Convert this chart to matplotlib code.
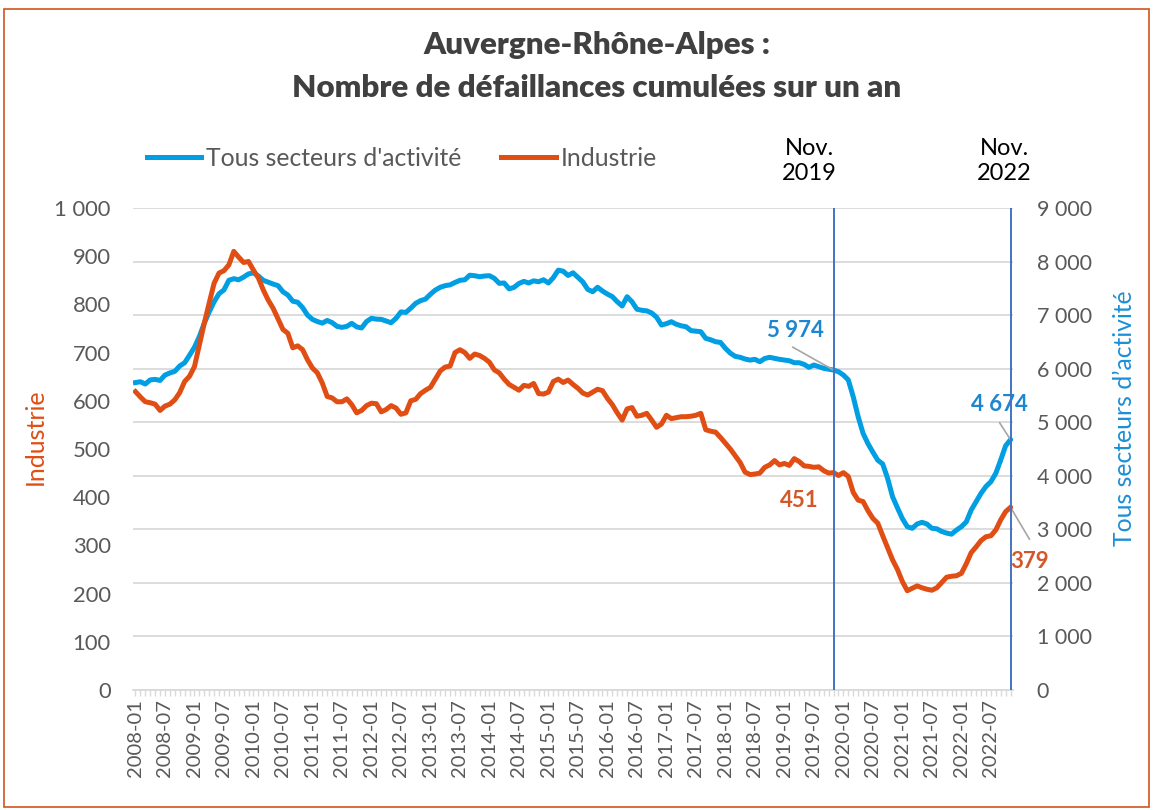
import matplotlib
matplotlib.use("Agg")
import matplotlib.pyplot as plt
from matplotlib.patches import Rectangle
from matplotlib.lines import Line2D
import pandas as pd

plt.rcParams['font.family'] = ['Lato', 'DejaVu Sans']

# Monthly categories, 2008-01 .. 2022-11
months = pd.period_range('2008-01', '2022-11', freq='M').strftime('%Y-%m').tolist()

# Number of business failures over the last 12 months, industry sector (left axis)
industrie = [
    619, 608, 598, 596, 593, 580, 589, 593, 602, 617, 640, 651,
    671, 716, 761, 803, 844, 865, 870, 882, 910, 898, 887, 889,
    871, 855, 830, 809, 792, 770, 748, 740, 710, 714, 706, 685,
    668, 658, 637, 609, 606, 598, 598, 604, 592, 575, 580, 590,
    595, 594, 577, 582, 590, 585, 572, 575, 600, 603, 615, 622,
    628, 645, 662, 670, 672, 700, 706, 700, 688, 697, 694, 688,
    680, 664, 658, 645, 634, 628, 622, 632, 630, 636, 615, 614,
    618, 640, 645, 638, 643, 634, 626, 616, 612, 618, 624, 621,
    605, 592, 575, 560, 583, 586, 568, 570, 574, 560, 545, 552,
    570, 563, 565, 567, 567, 568, 570, 574, 540, 537, 535, 524,
    512, 500, 486, 472, 452, 447, 448, 450, 462, 467, 476, 467,
    470, 466, 480, 474, 465, 464, 462, 463, 455, 450, 451, 445,
    451, 443, 410, 394, 391, 372, 356, 346, 320, 295, 270, 250,
    225, 206, 211, 216, 212, 209, 207, 212, 223, 234, 236, 237,
    242, 262, 285, 297, 310, 318, 320, 332, 353, 370, 379,
]

# Same indicator, all sectors (right axis)
tous_secteurs = [
    5740, 5756, 5713, 5790, 5800, 5780, 5880, 5920, 5950, 6050, 6110, 6250,
    6400, 6600, 6850, 7060, 7250, 7400, 7470, 7650, 7680, 7660, 7710, 7770,
    7790, 7730, 7650, 7615, 7580, 7550, 7437, 7375, 7260, 7240, 7140, 7000,
    6920, 6880, 6850, 6900, 6860, 6790, 6771, 6790, 6846, 6780, 6760, 6880,
    6940, 6925, 6921, 6890, 6858, 6940, 7060, 7050, 7130, 7220, 7270, 7300,
    7390, 7468, 7520, 7550, 7565, 7610, 7650, 7660, 7745, 7735, 7717, 7730,
    7736, 7687, 7593, 7600, 7490, 7518, 7590, 7630, 7600, 7640, 7623, 7660,
    7600, 7700, 7840, 7820, 7740, 7790, 7705, 7620, 7480, 7437, 7520, 7450,
    7393, 7345, 7250, 7170, 7343, 7250, 7110, 7090, 7080, 7040, 6960, 6815,
    6840, 6877, 6830, 6800, 6783, 6710, 6700, 6690, 6566, 6540, 6503, 6490,
    6380, 6290, 6230, 6212, 6180, 6160, 6174, 6130, 6190, 6212, 6193, 6174,
    6160, 6148, 6111, 6111, 6080, 6025, 6068, 6036, 6006, 5990, 5974, 5943,
    5881, 5790, 5476, 5103, 4793, 4600, 4440, 4290, 4220, 3950, 3609, 3400,
    3200, 3050, 3019, 3100, 3131, 3099, 3019, 3010, 2960, 2930, 2910, 2987,
    3049, 3140, 3361, 3516, 3673, 3800, 3889, 4046, 4294, 4560, 4674,
]

left_ticks = list(range(0, 1001, 100))
right_ticks = list(range(0, 9001, 1000))
markers = ['2019-11', '2022-11']

BLUE = '#009EE2'
ORANGE = '#E04E14'
BLUE_TXT = '#1C87D1'
ORANGE_TXT = '#D4572A'
GREY_TXT = '#595959'

W, H = 1153, 810
fig = plt.figure(figsize=(W / 100, H / 100), dpi=100)


def fx(px):
    return px / W


def fy(py):
    return 1 - py / H


def fmt(v):
    return f"{v:,}".replace(',', ' ')


ax1 = fig.add_axes([fx(133), fy(690), fx(1013) - fx(133), fy(208) - fy(690)])
ax2 = ax1.twinx()
ax1.set_zorder(ax2.get_zorder() + 1)
ax1.patch.set_visible(False)

x = list(range(len(months)))

ax2.plot(x, tous_secteurs, color=BLUE, lw=3.6, solid_joinstyle='round', zorder=3)
ax1.plot(x, industrie, color=ORANGE, lw=3.6, solid_joinstyle='round', zorder=3)

ax1.set_xlim(-0.5, len(months) - 0.5)
ax1.set_ylim(0, 1000)
ax2.set_ylim(0, 9000)

# gridlines follow the right-hand scale
ax2.set_yticks(right_ticks)
ax2.set_yticklabels([fmt(v) for v in right_ticks])
ax2.yaxis.grid(True, color='#D9D9D9', lw=1.3)
ax2.set_axisbelow(True)

ax1.set_yticks(left_ticks)
ax1.set_yticklabels([fmt(v) for v in left_ticks])

ax1.tick_params(axis='y', length=0, labelsize=15.8, labelcolor=GREY_TXT, pad=16)
ax2.tick_params(axis='y', length=0, labelsize=15.5, labelcolor=GREY_TXT, pad=17)

ax1.set_xticks(x)
ax1.set_xticklabels([m if i % 6 == 0 else '' for i, m in enumerate(months)],
                    rotation=90)
ax1.tick_params(axis='x', direction='out', length=4.5, width=1.0, color='#D9D9D9',
                labelsize=14.5, labelcolor=GREY_TXT, pad=2)

for a in (ax1, ax2):
    for s in ('top', 'left', 'right', 'bottom'):
        a.spines[s].set_visible(False)
ax1.spines['bottom'].set_visible(True)
ax1.spines['bottom'].set_color('#D9D9D9')
ax1.spines['bottom'].set_linewidth(1.3)

# reference months
for m in markers:
    ax1.axvline(months.index(m), color='#4472C4', lw=1.4, zorder=4)

i19 = months.index('2019-11')
i22 = months.index('2022-11')

ax1.annotate('Nov.\n2019', xy=(i19, 1000), xytext=(-24, 47), textcoords='offset pixels',
             ha='center', va='center', fontsize=17, color='black', linespacing=1.25)
ax1.annotate('Nov.\n2022', xy=(i22, 1000), xytext=(-6, 47), textcoords='offset pixels',
             ha='center', va='center', fontsize=17, color='black', linespacing=1.25)

# value labels
leader = dict(arrowstyle='-', color='#A6A6A6', lw=1.2, shrinkA=0, shrinkB=0)
ax2.annotate(fmt(tous_secteurs[i19]), xy=(i19, tous_secteurs[i19]), xytext=(-38, 40),
             textcoords='offset pixels', ha='center', va='center', fontsize=16,
             fontweight='bold', color=BLUE_TXT)
ax2.annotate('', xy=(i19, tous_secteurs[i19]), xytext=(-41, 23),
             textcoords='offset pixels', arrowprops=leader)
ax2.annotate(fmt(tous_secteurs[i22]), xy=(i22, tous_secteurs[i22]), xytext=(-11, 35),
             textcoords='offset pixels', ha='center', va='center', fontsize=16,
             fontweight='bold', color=BLUE_TXT)
ax2.annotate('', xy=(i22, tous_secteurs[i22]), xytext=(-11, 17),
             textcoords='offset pixels', arrowprops=leader)
ax1.annotate(fmt(industrie[i19]), xy=(i19, industrie[i19]), xytext=(-34, -28),
             textcoords='offset pixels', ha='center', va='center', fontsize=16,
             fontweight='bold', color=ORANGE_TXT)
ax1.annotate(fmt(industrie[i22]), xy=(i22, industrie[i22]), xytext=(19, -54),
             textcoords='offset pixels', ha='center', va='center', fontsize=16,
             fontweight='bold', color=ORANGE_TXT)
ax1.annotate('', xy=(i22, industrie[i22]), xytext=(19, -32),
             textcoords='offset pixels', arrowprops=leader)

# axis titles
fig.text(fx(35), fy(437), 'Industrie', rotation=90, ha='center', va='center',
         fontsize=18, color=ORANGE)
fig.text(fx(1125), fy(418), 'Tous secteurs d\u2019activité', rotation=90, ha='center',
         va='center', fontsize=17.8, color='#1C8FD6')

# title
fig.text(fx(597), fy(45), 'Auvergne-Rhône-Alpes :', ha='center', va='center',
         fontsize=22.6, fontweight='heavy', color='#404040')
fig.text(fx(597), fy(88), 'Nombre de défaillances cumulées sur un an', ha='center',
         va='center', fontsize=22.6, fontweight='heavy', color='#404040')

# legend
handles = [Line2D([], [], color=BLUE, lw=3.6), Line2D([], [], color=ORANGE, lw=3.6)]
fig.legend(handles, ["Tous secteurs d'activité", 'Industrie'], loc='center left',
           bbox_to_anchor=(fx(147), fy(158)), frameon=False, ncol=2, fontsize=17.8,
           handlelength=2.2, handletextpad=0.2, columnspacing=1.6, borderpad=0,
           borderaxespad=0, labelcolor=GREY_TXT)

# frame around the chart
fig.patches.append(Rectangle((fx(4), fy(807)), fx(1149) - fx(4), fy(9) - fy(807),
                             transform=fig.transFigure, fill=False,
                             edgecolor='#D0541E', lw=1.2))

fig.savefig('out.png', dpi=100)
